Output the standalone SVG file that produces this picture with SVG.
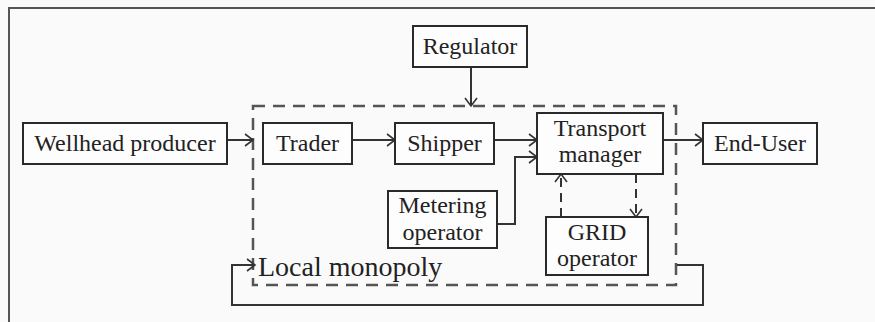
<svg xmlns="http://www.w3.org/2000/svg" width="875" height="322" viewBox="0 0 875 322">
<defs>
<marker id="arr" markerUnits="userSpaceOnUse" markerWidth="12" markerHeight="16" refX="9" refY="7" orient="auto">
<path d="M1,1 L9,7 L1,13" fill="none" stroke="#333" stroke-width="1.6"/>
</marker>
<style>
.box{fill:#fdfdfd;stroke:#2a2a2a;stroke-width:2}
.t{font-family:"Liberation Serif","Times New Roman",serif;font-size:24px;fill:#222;text-anchor:middle}
.c{fill:none;stroke:#333;stroke-width:2}
.d{fill:none;stroke:#555;stroke-width:2.5;stroke-dasharray:12 8}
.dl{fill:none;stroke:#333;stroke-width:2;stroke-dasharray:9 6}
</style>
</defs>
<rect x="0" y="0" width="875" height="322" fill="#fafafa"/>
<path d="M9,322 L9,8 L875,8" fill="none" stroke="#555" stroke-width="2"/>
<g id="local-monopoly">
<rect x="253" y="106" width="423" height="179" class="d"/>
<text x="258" y="276" style="font-family:'Liberation Serif','Times New Roman',serif;font-size:28px;fill:#222">Local monopoly</text>
</g>
<g id="connectors">
<line x1="227" y1="140" x2="253" y2="140" class="c" marker-end="url(#arr)"/>
<line x1="352" y1="140" x2="395" y2="140" class="c" marker-end="url(#arr)"/>
<line x1="471" y1="67" x2="471" y2="106" class="c" marker-end="url(#arr)"/>
<line x1="494" y1="140" x2="537" y2="140" class="c" marker-end="url(#arr)"/>
<path d="M497,224 L515,224 L515,157 L537,157" class="c" marker-end="url(#arr)"/>
<line x1="663" y1="140" x2="703" y2="140" class="c" marker-end="url(#arr)"/>
<line x1="561" y1="217" x2="561" y2="174" class="dl" marker-end="url(#arr)"/>
<line x1="636" y1="174" x2="636" y2="217" class="dl" marker-end="url(#arr)"/>
<path d="M677,265 L703,265 L703,305 L232,305 L232,265 L255,265" class="c" marker-end="url(#arr)"/>
</g>
<g id="wellhead-producer">
<rect x="23" y="123" width="204" height="41" class="box"/>
<text x="125" y="151" class="t">Wellhead producer</text>
</g>
<g id="trader">
<rect x="263" y="123" width="89" height="41" class="box"/>
<text x="307.5" y="151" class="t">Trader</text>
</g>
<g id="shipper">
<rect x="395" y="123" width="99" height="41" class="box"/>
<text x="444.5" y="151" class="t">Shipper</text>
</g>
<g id="regulator">
<rect x="413" y="26" width="114" height="41" class="box"/>
<text x="470" y="54" class="t">Regulator</text>
</g>
<g id="transport-manager">
<rect x="537" y="113" width="126" height="61" class="box"/>
<text x="600" y="136" class="t">Transport</text>
<text x="600" y="162" class="t">manager</text>
</g>
<g id="end-user">
<rect x="703" y="123" width="114" height="41" class="box"/>
<text x="760" y="151" class="t">End-User</text>
</g>
<g id="metering-operator">
<rect x="388" y="191" width="109" height="57" class="box"/>
<text x="442.5" y="213" class="t">Metering</text>
<text x="442.5" y="240" class="t">operator</text>
</g>
<g id="grid-operator">
<rect x="546" y="217" width="102" height="58" class="box"/>
<text x="597" y="240" class="t">GRID</text>
<text x="597" y="266" class="t">operator</text>
</g>
</svg>
